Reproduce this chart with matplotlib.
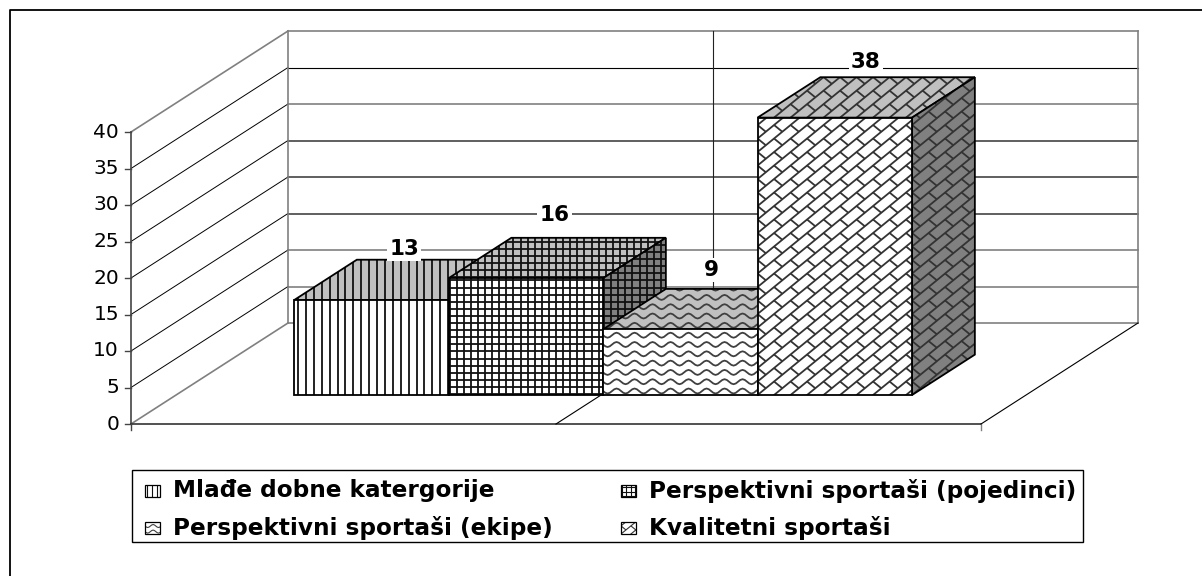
from matplotlib import pyplot as plt
from matplotlib.collections import LineCollection
from matplotlib.patches import Polygon, Rectangle
import numpy as np

categories = ["Mlađe dobne katergorije", "Perspektivni sportaši (pojedinci)",
              "Perspektivni sportaši (ekipe)", "Kvalitetni sportaši"]
values = [13, 16, 9, 38]
y_ticks = [0, 5, 10, 15, 20, 25, 30, 35, 40]
patterns = ["vert", "grid", "wave", "brick"]

# geometry of the fake 3d box, in image pixels
floor_x0 = 131
floor_x1 = 981
floor_y = 424
unit_y = 7.3
depth_dx = 157
depth_dy = -101
bar_start = 118
bar_width = 154.5
bar_d0 = 0.287
bar_d1 = 0.687
label_lift = [11, 23, 19, 15]
label_shift = [-30, -34, -32, -32]
# gridlines came out uneven in the scan
grid_dark = [5 * i for i in (3, 4, 5, 7)]
pattern_color = {"vert": "#111111", "grid": "#111111", "wave": "#404040", "brick": "#333333"}


def pt(x, val, d):
    return (floor_x0 + x + d * depth_dx, floor_y - val * unit_y + d * depth_dy)


def pattern_segments(kind, x0, y0, x1, y1, s=1.0):
    segs = []
    if kind == "vert":
        for x in np.arange(x0 + 4 * s, x1, 7.9 * s):
            segs.append([(x, y0), (x, y1)])
    elif kind == "grid":
        for x in np.arange(x0 + 1, x1, 7.1 * s):
            segs.append([(x, y0), (x, y1)])
        for y in np.arange(y1 - 1, y0, -7.1 * s):
            segs.append([(x0, y), (x1, y)])
    elif kind == "wave":
        per = 18.0 * s
        row = 9.3 * s
        amp = 2.5 * s
        xs = np.arange(x0 - per, x1 + per, per / 8)
        for y in np.arange(y1 - 4 * s, y0 - row, -row):
            segs.append(list(zip(xs, y + amp * np.sin(2 * np.pi * (xs - x0) / per))))
    elif kind == "brick":
        tx = 16.5 * s
        ty = 13.5 * s
        n = int((x1 - x0) / tx + (y1 - y0) / ty) + 3
        for k in range(-n, n + 1):
            # long diagonals going up to the right
            xa = x0 + k * tx
            segs.append([(xa - 60 * tx, y1 + 60 * ty), (xa + 60 * tx, y1 - 60 * ty)])
        for i in range(-n, n + 1):
            for j in range(-n, n + 1):
                xa = x0 + i * tx
                ya = y1 - j * ty
                if x0 - tx < xa < x1 + tx and y0 - ty < ya < y1 + ty:
                    segs.append([(xa, ya), (xa + tx / 2, ya + ty / 2)])
    return segs


def face(ax, pts, kind, color, z, s=1.0, lw=1.3, edge_lw=1.3):
    poly = Polygon(pts, closed=True, facecolor=color, edgecolor="none", zorder=z)
    ax.add_patch(poly)
    xs = [p[0] for p in pts]
    ys = [p[1] for p in pts]
    lines = LineCollection(pattern_segments(kind, min(xs), min(ys), max(xs), max(ys), s),
                           colors=pattern_color[kind], linewidths=lw, zorder=z)
    ax.add_collection(lines)
    lines.set_clip_path(poly)
    ax.add_patch(Polygon(pts, closed=True, facecolor="none", edgecolor="black",
                         linewidth=edge_lw, zorder=z))


fig = plt.figure(figsize=(12.02, 5.76), dpi=100)
ax = fig.add_axes([0, 0, 1, 1])
ax.set_xlim(0, 1202)
ax.set_ylim(576, 0)
ax.axis("off")

# frame, only left and top edges are in the crop
ax.plot([10, 10, 1202], [576, 10, 10], color="black", lw=1.3, zorder=1)

span = floor_x1 - floor_x0
top = y_ticks[-1]

# walls and gridlines
for v in y_ticks:
    outer = v in (0, top)
    dark = v in grid_dark
    thin = v == 35
    col = "#808080" if outer or not (dark or thin) else ("black" if thin else "#444444")
    lw = 0.8 if thin else 1.2
    a, b = pt(span, v, 1), pt(0, v, 1)
    ax.plot([a[0], b[0]], [a[1], b[1]], color=col, lw=lw, zorder=1)
    c = pt(0, v, 0)
    ax.plot([c[0], b[0]], [c[1], b[1]], color="#808080" if outer else "black",
            lw=1.2 if outer else 0.7, zorder=1)
    ax.plot([c[0] - 6, c[0]], [c[1], c[1]], color="#444444", lw=1.0, zorder=2)
    ax.text(c[0] - 12, c[1], str(v), ha="right", va="center", fontsize=14.5,
            color="black", zorder=2)

for x, col in ((0, "#808080"), (span / 2, "#222222"), (span, "#808080")):
    a, b = pt(x, 0, 1), pt(x, top, 1)
    ax.plot([a[0], b[0]], [a[1], b[1]], color=col, lw=1.2 if col == "#808080" else 0.8, zorder=1)

a, b = pt(0, 0, 0), pt(0, top, 0)
ax.plot([a[0], a[0]], [a[1], b[1]], color="#444444", lw=1.2, zorder=2)
ax.plot([a[0], a[0] + span], [a[1], a[1]], color="#333333", lw=1.2, zorder=2)
ax.plot([a[0], a[0]], [a[1], a[1] + 6], color="#444444", lw=1.0, zorder=2)
ax.plot([a[0] + span, a[0] + span], [a[1], a[1] + 6], color="#808080", lw=1.0, zorder=2)
for x in (span / 2, span):
    a, b = pt(x, 0, 0), pt(x, 0, 1)
    ax.plot([a[0], b[0]], [a[1], b[1]], color="black", lw=0.8, zorder=2)

# bars, left to right so later ones cover the earlier sides
for i, (val, kind) in enumerate(zip(values, patterns)):
    x0 = bar_start + i * bar_width
    x1 = x0 + bar_width
    z = 5 + i
    face(ax, [pt(x0, val, bar_d0), pt(x1, val, bar_d0), pt(x1, val, bar_d1), pt(x0, val, bar_d1)],
         kind, "#c0c0c0", z)
    face(ax, [pt(x1, 0, bar_d0), pt(x1, 0, bar_d1), pt(x1, val, bar_d1), pt(x1, val, bar_d0)],
         kind, "#808080", z)
    face(ax, [pt(x0, 0, bar_d0), pt(x1, 0, bar_d0), pt(x1, val, bar_d0), pt(x0, val, bar_d0)],
         kind, "white", z)

for i, val in enumerate(values):
    xm = bar_start + (i + 0.5) * bar_width
    p = pt(xm, val, bar_d1)
    ax.text(p[0] + label_shift[i], p[1] - label_lift[i], str(val), ha="center", va="center",
            fontsize=15.5, fontweight="bold", color="black", zorder=20,
            bbox=dict(facecolor="white", edgecolor="none", pad=1.5))

# legend
ax.add_patch(Rectangle((132, 470), 951, 72, facecolor="white", edgecolor="black", lw=1.0, zorder=3))
legend_pos = [(145, 491), (621, 491), (145, 528), (621, 528)]
for (lx, ly), name, kind in zip(legend_pos, categories, patterns):
    face(ax, [(lx, ly - 6), (lx + 15, ly - 6), (lx + 15, ly + 6), (lx, ly + 6)], kind, "white", 4,
         s=0.6, lw=0.8, edge_lw=0.9)
    ax.text(lx + 28, ly, name, ha="left", va="center", fontsize=16.7, fontweight="bold",
            color="black", zorder=4)

fig.savefig("out.png", dpi=100)
